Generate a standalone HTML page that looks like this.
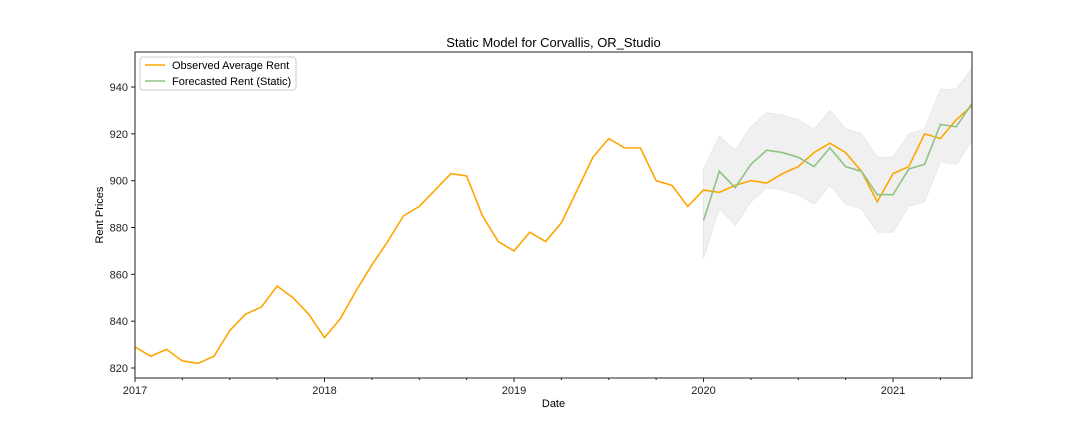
<!DOCTYPE html>
<html><head><meta charset="utf-8"><style>
body{margin:0;background:#fff;font-family:"Liberation Sans","DejaVu Sans",sans-serif;}
svg text{font-family:"Liberation Sans","DejaVu Sans",sans-serif;}
</style></head><body>
<svg id="chart" width="1080" height="432" xmlns="http://www.w3.org/2000/svg">
<rect width="1080" height="432" fill="#fff"/>
<g id="plot"></g>
</svg>
<script>
const observed = [829,825,828,823,822,825,836,843,846,855,850,843,
833,841,853,864,874,885,889,896,903,902,885,874,
870,878,874,882,896,910,918,914,914,900,898,889,
896,895,898,900,899,903,906,912,916,912,904,891,
903,906,920,918,926,932];
const forecast = [883,904,897,907,913,912,910,906,914,906,904,894,894,905,907,924,923,933];
const upper = [905,919,913,923,929,928,926,922,930,922,920,910,910,920,922,939,939,948];
const lower = [867,888,881,891,897,896,894,890,898,890,888,878,878,889,891,908,907,917];
const yTicks = [820,840,860,880,900,920,940];
const xYears = ["2017","2018","2019","2020","2021"];
const forecastStart = 36;

const L=135,R=972,T=52,B=378;
const xs = i => L + i*(R-L)/(observed.length-1);
const ys = v => 368 - (v-820)*(281/120);
const NS="http://www.w3.org/2000/svg";
const g=document.getElementById('plot');
function mk(tag,attrs){const e=document.createElementNS(NS,tag);for(const k in attrs)e.setAttribute(k,attrs[k]);g.appendChild(e);return e;}

// band
let pts=[];
upper.forEach((v,i)=>pts.push(xs(i+forecastStart)+','+ys(v)));
for(let i=lower.length-1;i>=0;i--)pts.push(xs(i+forecastStart)+','+ys(lower[i]));
let band=mk('polygon',{points:pts.join(' '),fill:'#f0f0f0',stroke:'#e8e8e8'});



let ol=mk('polyline',{points:observed.map((v,i)=>xs(i)+','+ys(v)).join(' '),fill:'none',stroke:'#ffa500','stroke-width':1.6});


let fl=mk('polyline',{points:forecast.map((v,i)=>xs(i+forecastStart)+','+ys(v)).join(' '),fill:'none',stroke:'#8fc283','stroke-width':1.6});



// frame
let fr=mk('rect',{x:L,y:T,width:R-L,height:B-T,fill:'none',stroke:'#222','stroke-width':1});



yTicks.forEach(v=>{
  mk('line',{x1:L-4,x2:L,y1:ys(v),y2:ys(v),stroke:'#222'});
  let t=mk('text',{x:L-7,y:ys(v)+4,'text-anchor':'end','font-size':11,fill:'#222'});
  t.textContent=v;
  
  
});
for(let i=0;i<observed.length;i++){
  const major=i%12===0;
  if(i%3===0||major) mk('line',{x1:xs(i),x2:xs(i),y1:B,y2:B+(major?4:2),stroke:'#222'});
}
xYears.forEach((y,k)=>{
  let t=mk('text',{x:xs(k*12),y:B+16,'text-anchor':'middle','font-size':11,fill:'#222'});
  t.textContent=y;
  
  
});
let tt=mk('text',{x:(L+R)/2,y:47,'text-anchor':'middle','font-size':13,fill:'#000'});
tt.textContent='Static Model for Corvallis, OR_Studio';


let xt=mk('text',{x:(L+R)/2,y:407,'text-anchor':'middle','font-size':11,fill:'#000'});
xt.textContent='Date';


let yt=mk('text',{x:103,y:215,'text-anchor':'middle','font-size':11,fill:'#000',transform:'rotate(-90 103 215)'});
yt.textContent='Rent Prices';



// legend
let lg=mk('rect',{x:140,y:57,width:156,height:33,rx:3,fill:'#fff',stroke:'#ccc'});


mk('line',{x1:145,x2:165,y1:65,y2:65,stroke:'#ffa500','stroke-width':1.6});
let l1=mk('text',{x:172,y:69,'font-size':11,fill:'#000'});
l1.textContent='Observed Average Rent';


mk('line',{x1:145,x2:165,y1:81,y2:81,stroke:'#8fc283','stroke-width':1.6});
let l2=mk('text',{x:172,y:85,'font-size':11,fill:'#000'});
l2.textContent='Forecasted Rent (Static)';


</script>
</body></html>
